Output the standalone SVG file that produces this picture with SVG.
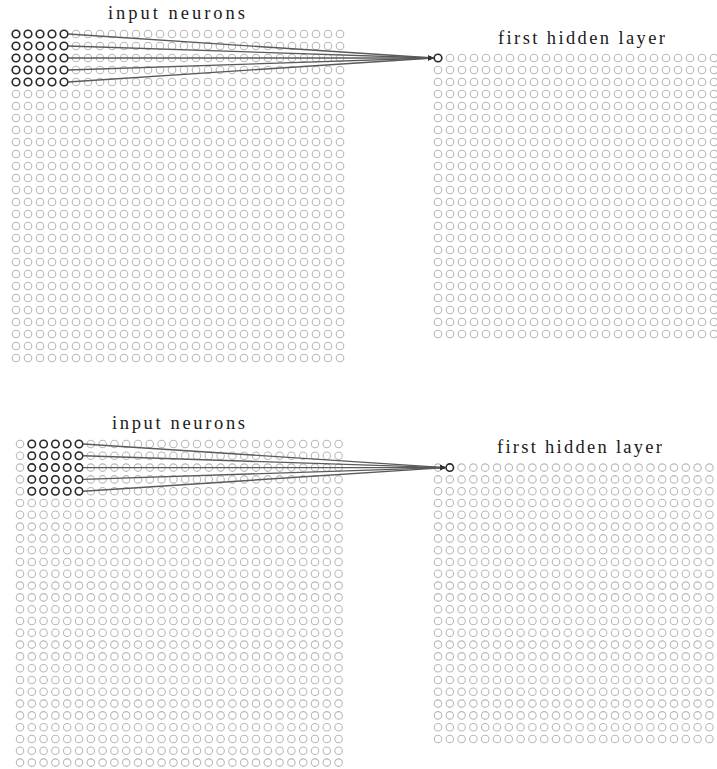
<svg xmlns="http://www.w3.org/2000/svg" xmlns:xlink="http://www.w3.org/1999/xlink" width="717" height="769" viewBox="0 0 717 769">
<style>
.n{fill:#fff;stroke:#b8b8b8;stroke-width:1.1}
.a{fill:#fff;stroke:#2a2a2a;stroke-width:1.6}
.lbl{font-family:"Liberation Serif","DejaVu Serif",serif;font-size:18.5px;fill:#1a1a1a}
.c{fill:none;stroke:#5a5a5a;stroke-width:1.4;marker-end:url(#arr)}
</style>
<defs>
<marker id="arr" viewBox="0 0 10 10" refX="9" refY="5" markerWidth="6" markerHeight="6" orient="auto" markerUnits="userSpaceOnUse">
<path d="M0,1 L10,5 L0,9 z" fill="#333"/>
</marker>
<g id="row28">
<circle class="n" cx="0" cy="0" r="3.8"/><circle class="n" cx="12" cy="0" r="3.8"/><circle class="n" cx="24" cy="0" r="3.8"/><circle class="n" cx="36" cy="0" r="3.8"/><circle class="n" cx="48" cy="0" r="3.8"/><circle class="n" cx="60" cy="0" r="3.8"/><circle class="n" cx="72" cy="0" r="3.8"/><circle class="n" cx="84" cy="0" r="3.8"/><circle class="n" cx="96" cy="0" r="3.8"/><circle class="n" cx="108" cy="0" r="3.8"/><circle class="n" cx="120" cy="0" r="3.8"/><circle class="n" cx="132" cy="0" r="3.8"/><circle class="n" cx="144" cy="0" r="3.8"/><circle class="n" cx="156" cy="0" r="3.8"/><circle class="n" cx="168" cy="0" r="3.8"/><circle class="n" cx="180" cy="0" r="3.8"/><circle class="n" cx="192" cy="0" r="3.8"/><circle class="n" cx="204" cy="0" r="3.8"/><circle class="n" cx="216" cy="0" r="3.8"/><circle class="n" cx="228" cy="0" r="3.8"/><circle class="n" cx="240" cy="0" r="3.8"/><circle class="n" cx="252" cy="0" r="3.8"/><circle class="n" cx="264" cy="0" r="3.8"/><circle class="n" cx="276" cy="0" r="3.8"/><circle class="n" cx="288" cy="0" r="3.8"/><circle class="n" cx="300" cy="0" r="3.8"/><circle class="n" cx="312" cy="0" r="3.8"/><circle class="n" cx="324" cy="0" r="3.8"/>
</g>
<g id="grid28">
<use href="#row28" y="0"/><use href="#row28" y="12"/><use href="#row28" y="24"/><use href="#row28" y="36"/><use href="#row28" y="48"/><use href="#row28" y="60"/><use href="#row28" y="72"/><use href="#row28" y="84"/><use href="#row28" y="96"/><use href="#row28" y="108"/><use href="#row28" y="120"/><use href="#row28" y="132"/><use href="#row28" y="144"/><use href="#row28" y="156"/><use href="#row28" y="168"/><use href="#row28" y="180"/><use href="#row28" y="192"/><use href="#row28" y="204"/><use href="#row28" y="216"/><use href="#row28" y="228"/><use href="#row28" y="240"/><use href="#row28" y="252"/><use href="#row28" y="264"/><use href="#row28" y="276"/><use href="#row28" y="288"/><use href="#row28" y="300"/><use href="#row28" y="312"/><use href="#row28" y="324"/>
</g>
<g id="row24">
<circle class="n" cx="0" cy="0" r="3.8"/><circle class="n" cx="12" cy="0" r="3.8"/><circle class="n" cx="24" cy="0" r="3.8"/><circle class="n" cx="36" cy="0" r="3.8"/><circle class="n" cx="48" cy="0" r="3.8"/><circle class="n" cx="60" cy="0" r="3.8"/><circle class="n" cx="72" cy="0" r="3.8"/><circle class="n" cx="84" cy="0" r="3.8"/><circle class="n" cx="96" cy="0" r="3.8"/><circle class="n" cx="108" cy="0" r="3.8"/><circle class="n" cx="120" cy="0" r="3.8"/><circle class="n" cx="132" cy="0" r="3.8"/><circle class="n" cx="144" cy="0" r="3.8"/><circle class="n" cx="156" cy="0" r="3.8"/><circle class="n" cx="168" cy="0" r="3.8"/><circle class="n" cx="180" cy="0" r="3.8"/><circle class="n" cx="192" cy="0" r="3.8"/><circle class="n" cx="204" cy="0" r="3.8"/><circle class="n" cx="216" cy="0" r="3.8"/><circle class="n" cx="228" cy="0" r="3.8"/><circle class="n" cx="240" cy="0" r="3.8"/><circle class="n" cx="252" cy="0" r="3.8"/><circle class="n" cx="264" cy="0" r="3.8"/><circle class="n" cx="276" cy="0" r="3.8"/>
</g>
<g id="grid24">
<use href="#row24" y="0"/><use href="#row24" y="12"/><use href="#row24" y="24"/><use href="#row24" y="36"/><use href="#row24" y="48"/><use href="#row24" y="60"/><use href="#row24" y="72"/><use href="#row24" y="84"/><use href="#row24" y="96"/><use href="#row24" y="108"/><use href="#row24" y="120"/><use href="#row24" y="132"/><use href="#row24" y="144"/><use href="#row24" y="156"/><use href="#row24" y="168"/><use href="#row24" y="180"/><use href="#row24" y="192"/><use href="#row24" y="204"/><use href="#row24" y="216"/><use href="#row24" y="228"/><use href="#row24" y="240"/><use href="#row24" y="252"/><use href="#row24" y="264"/><use href="#row24" y="276"/>
</g>
<g id="field">
<circle class="a" cx="0" cy="0" r="3.8"/><circle class="a" cx="12" cy="0" r="3.8"/><circle class="a" cx="24" cy="0" r="3.8"/><circle class="a" cx="36" cy="0" r="3.8"/><circle class="a" cx="48" cy="0" r="3.8"/>
<circle class="a" cx="0" cy="12" r="3.8"/><circle class="a" cx="12" cy="12" r="3.8"/><circle class="a" cx="24" cy="12" r="3.8"/><circle class="a" cx="36" cy="12" r="3.8"/><circle class="a" cx="48" cy="12" r="3.8"/>
<circle class="a" cx="0" cy="24" r="3.8"/><circle class="a" cx="12" cy="24" r="3.8"/><circle class="a" cx="24" cy="24" r="3.8"/><circle class="a" cx="36" cy="24" r="3.8"/><circle class="a" cx="48" cy="24" r="3.8"/>
<circle class="a" cx="0" cy="36" r="3.8"/><circle class="a" cx="12" cy="36" r="3.8"/><circle class="a" cx="24" cy="36" r="3.8"/><circle class="a" cx="36" cy="36" r="3.8"/><circle class="a" cx="48" cy="36" r="3.8"/>
<circle class="a" cx="0" cy="48" r="3.8"/><circle class="a" cx="12" cy="48" r="3.8"/><circle class="a" cx="24" cy="48" r="3.8"/><circle class="a" cx="36" cy="48" r="3.8"/><circle class="a" cx="48" cy="48" r="3.8"/>
</g>
</defs>
<rect width="717" height="769" fill="#fff"/>

<!-- Top panel -->
<g id="top-input">
<text class="lbl" x="108" y="19" textLength="137" lengthAdjust="spacing">input neurons</text>
<use href="#grid28" x="16" y="34"/>
<use href="#field" x="16" y="34"/>
</g>
<g id="top-hidden">
<text class="lbl" x="498" y="44" textLength="167" lengthAdjust="spacing">first hidden layer</text>
<use href="#grid24" x="438" y="58"/>
<circle class="a" cx="438" cy="58" r="3.8"/>
</g>
<g id="top-connectors">
<path class="c" d="M68,34 L433.5,58"/>
<path class="c" d="M68,46 L433.5,58"/>
<path class="c" d="M68,58 L433.5,58"/>
<path class="c" d="M68,70 L433.5,58"/>
<path class="c" d="M68,82 L433.5,58"/>
</g>

<!-- Bottom panel -->
<g id="bottom-input">
<text class="lbl" x="112" y="428.5" textLength="133" lengthAdjust="spacing">input neurons</text>
<g transform="translate(20,444) scale(0.98333)">
<use href="#grid28"/>
<use href="#field" x="12"/>
</g>
</g>
<g id="bottom-hidden">
<text class="lbl" x="497" y="453" textLength="165" lengthAdjust="spacing">first hidden layer</text>
<g transform="translate(438,467.6) scale(0.98333)">
<use href="#grid24"/>
<circle class="a" cx="12" cy="0" r="3.8"/>
</g>
</g>
<g id="bottom-connectors">
<path class="c" d="M83,444 L445.5,467.6"/>
<path class="c" d="M83,455.8 L445.5,467.6"/>
<path class="c" d="M83,467.6 L445.5,467.6"/>
<path class="c" d="M83,479.4 L445.5,467.6"/>
<path class="c" d="M83,491.2 L445.5,467.6"/>
</g>
</svg>
